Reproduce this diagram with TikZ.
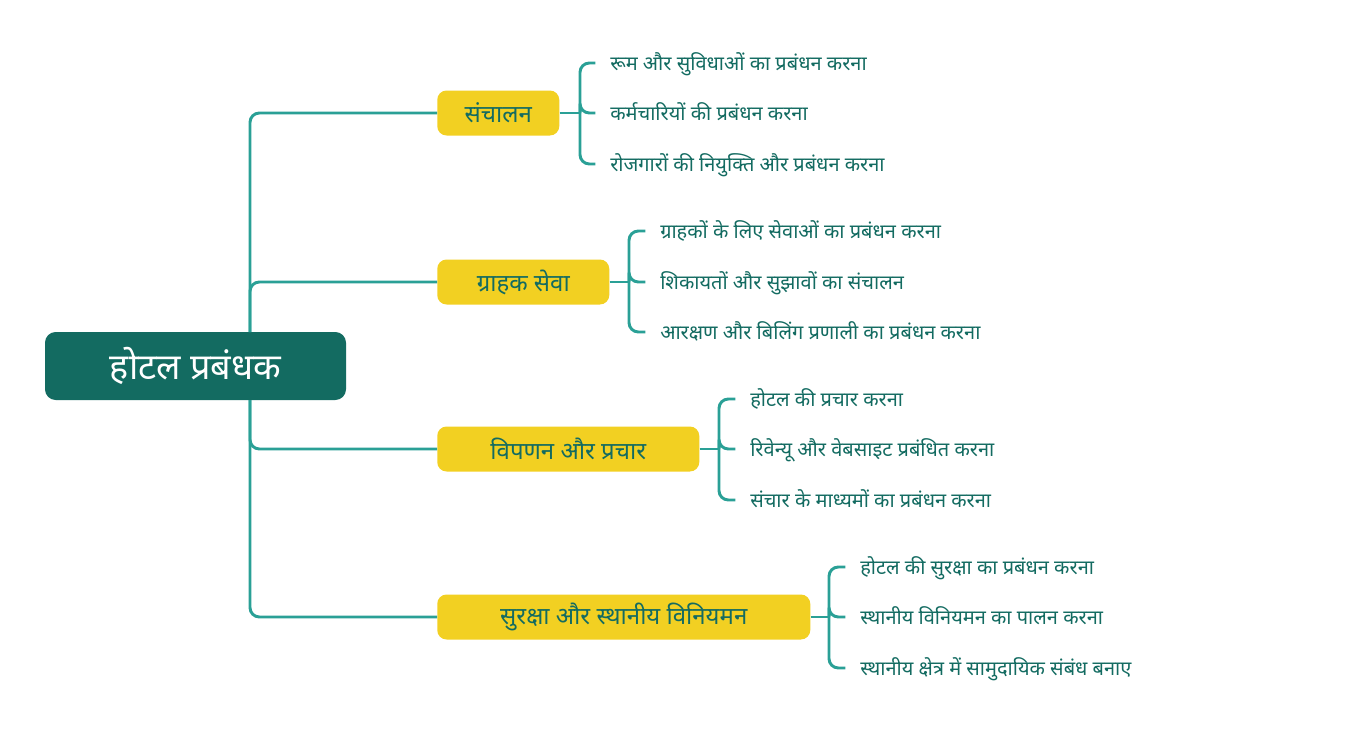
\documentclass[tikz,border=0pt]{standalone}
\usepackage{fontspec}
\newfontfamily\hindi[Script=Devanagari]{Noto Sans}
\definecolor{rootgreen}{HTML}{136B61}
\definecolor{linkteal}{HTML}{2AA096}
\definecolor{topicyellow}{HTML}{F2D022}
\begin{document}
\begin{tikzpicture}[x=0.75pt,y=-0.75pt,
    rootbox/.style={fill=rootgreen,rounded corners=8pt,text=white,font=\hindi\fontsize{27}{31}\selectfont,minimum width=225.75pt,minimum height=51pt},
    topic/.style={fill=topicyellow,rounded corners=7pt,text=rootgreen,font=\hindi\fontsize{18}{21}\selectfont,minimum height=33.75pt,anchor=west},
    leaf/.style={text=rootgreen,font=\hindi\fontsize{15}{18}\selectfont,anchor=west,inner sep=0pt,text height=11pt,text depth=0pt},
    link/.style={draw=linkteal,line width=2.2pt,rounded corners=7pt}]
      \useasboundingbox (0,0) rectangle (1365,747);
      \node[rootbox] (root) at (195.5,366) {होटल प्रबंधक};
      \coordinate (up) at (250,332);
      \coordinate (down) at (250,400);
      \node[topic,minimum width=91.5pt] (b1) at (437,113) {संचालन};
      \node[topic,minimum width=129pt] (b2) at (437,282) {ग्राहक सेवा};
      \node[topic,minimum width=196.5pt] (b3) at (437,449) {विपणन और प्रचार};
      \node[topic,minimum width=279.75pt] (b4) at (437,617) {सुरक्षा और स्थानीय विनियमन};
      \draw[link] (up) |- (b1.west);
      \draw[link] (up) |- (b2.west);
      \draw[link] (down) |- (b3.west);
      \draw[link] (down) |- (b4.west);
      \node[leaf] (l11) at (610,63) {रूम और सुविधाओं का प्रबंधन करना};
      \node[leaf] (l12) at (610,113) {कर्मचारियों की प्रबंधन करना};
      \node[leaf] (l13) at (610,164) {रोजगारों की नियुक्ति और प्रबंधन करना};
      \node[leaf] (l21) at (660,231) {ग्राहकों के लिए सेवाओं का प्रबंधन करना};
      \node[leaf] (l22) at (660,282) {शिकायतों और सुझावों का संचालन};
      \node[leaf] (l23) at (660,332) {आरक्षण और बिलिंग प्रणाली का प्रबंधन करना};
      \node[leaf] (l31) at (750,399) {होटल की प्रचार करना};
      \node[leaf] (l32) at (750,449) {रिवेन्यू और वेबसाइट प्रबंधित करना};
      \node[leaf] (l33) at (750,500) {संचार के माध्यमों का प्रबंधन करना};
      \node[leaf] (l41) at (860,567) {होटल की सुरक्षा का प्रबंधन करना};
      \node[leaf] (l42) at (860,617) {स्थानीय विनियमन का पालन करना};
      \node[leaf] (l43) at (860,668) {स्थानीय क्षेत्र में सामुदायिक संबंध बनाए};
      \draw[link] (b1.east) -- (580,113) coordinate (k1);
      \draw[link] (b2.east) -- (629,282) coordinate (k2);
      \draw[link] (b3.east) -- (719,449) coordinate (k3);
      \draw[link] (b4.east) -- (829,617) coordinate (k4);
      \foreach \b/\k in {1/1,2/2,3/3,4/4}
        \foreach \i in {1,2,3}
          \draw[link] (k\k) |- ([xshift=-11pt]l\b\i.west);
\end{tikzpicture}
\end{document}
